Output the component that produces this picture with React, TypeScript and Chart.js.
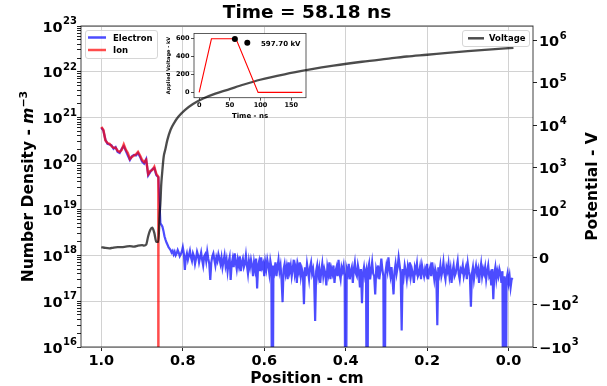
import React, { useEffect, useRef } from 'react';
import { Chart, Scale, registerables } from 'chart.js';

const FONT = "'DejaVu Sans', 'Liberation Sans', sans-serif";

// ---------------- data ----------------
const TITLE = 'Time = 58.18 ns';

// near-cathode region grid: x = 1.000 ... 0.860, step 0.005
const NEAR_X_FIRST = 1.0;
const NEAR_X_STEP = 0.005;
// far region grid: x = 0.855 ... -0.010, step 0.0025
const FAR_X_FIRST = 0.855;
const FAR_X_STEP = 0.0025;

// ion density on the near grid (m^-3)
const ION_DENSITY = [
  6.3e20, 5.4e20, 3.2e20, 2.8e20, 2.7e20, 2.4e20, 2.2e20, 2.2e20, 1.9e20, 1.8e20,
  2.0e20, 2.6e20, 2.0e20, 1.7e20, 1.26e20, 1.4e20, 1.5e20, 1.6e20, 1.8e20, 1.5e20,
  1.2e20, 1.07e20, 1.2e20, 5.9e19, 6.9e19, 7.2e19, 8.5e19, 5.9e19, 5.1e19,
];
const ION_CUTOFF_X = 0.86;
const ION_CUTOFF_VALUE = 1e12; // zero (falls below the axis)

// electron density on the near grid (m^-3)
const ELECTRON_NEAR = [
  6.1e20, 5.2e20, 3.3e20, 2.7e20, 2.6e20, 2.5e20, 2.1e20, 2.3e20, 1.8e20, 1.7e20,
  2.1e20, 2.4e20, 1.9e20, 1.5e20, 1.2e20, 1.45e20, 1.55e20, 1.5e20, 1.7e20, 1.4e20,
  1.1e20, 1.0e20, 1.25e20, 5.5e19, 6.5e19, 7.5e19, 8.0e19, 5.6e19, 5.0e19,
];
// electron density on the far grid (m^-3); 1e12 = zero counts (below the axis)
const ELECTRON_FAR = [
  5.0e18, 4.6e18, 4.2e18, 3.4e18, 2.6e18, 2.2e18, 1.9e18, 1.7e18, 1.5e18, 1.4e18, 1.3e18, 1.15e18, 1.25e18, 1.05e18, 1.2e18, 1.0e18, 1.1e18, 1.3e18, 1.15e18, 9.5e17,
  1.05e18, 1.2e18, 1.5e18, 1.1e18, 4.8e17, 9.0e17, 1.1e18, 8.0e17, 1.0e18, 1.25e18, 9.0e17, 7.5e17, 1.1e18, 9.5e17, 6.5e17, 8.5e17, 1.2e18, 1.0e18, 7.0e17, 9.0e17,
  1.15e18, 8.0e17, 6.0e17, 9.5e17, 1.05e18, 7.5e17, 1.2e18, 8.5e17, 6.5e17, 2.9e17, 7.0e17, 9.5e17, 1.1e18, 8.0e17, 6.0e17, 9.0e17, 7.5e17, 1.05e18, 8.5e17, 6.5e17,
  9.0e17, 5.5e17, 7.5e17, 1.0e18, 6.0e17, 8.0e17, 4.5e17, 7.0e17, 9.0e17, 2.9e17, 6.5e17, 8.5e17, 5.5e17, 1.1e18, 7.0e17, 5.0e17, 8.0e17, 6.0e17, 9.5e17, 4.5e17,
  7.0e17, 8.5e17, 5.5e17, 6.5e17, 1.0e18, 6.0e17, 4.0e17, 7.5e17, 5.5e17, 8.0e17, 6.0e17, 3.5e17, 7.0e17, 5.0e17, 8.5e17, 1.9e17, 6.0e17, 7.5e17, 4.5e17, 9.0e17,
  5.5e17, 6.5e17, 3.5e17, 7.0e17, 5.0e17, 8.0e17, 6.0e17, 4.0e17, 7.5e17, 5.5e17, 1e12, 6.0e17, 4.5e17, 7.0e17, 3.5e17, 5.5e17, 8.0e17, 4.5e17, 6.0e17, 3.0e17,
  9.5e16, 5.0e17, 6.5e17, 4.0e17, 5.5e17, 3.0e17, 7.0e17, 4.5e17, 6.0e17, 3.5e17, 5.0e17, 8.0e17, 4.0e17, 5.5e17, 2.5e17, 6.0e17, 4.5e17, 7.0e17, 3.5e17, 5.0e17,
  4.0e17, 8.6e16, 5.5e17, 3.5e17, 6.5e17, 4.5e17, 3.0e17, 5.5e17, 7.0e17, 4.0e17, 5.0e17, 3.0e17, 3.7e16, 4.5e17, 6.0e17, 3.5e17, 5.0e17, 2.5e17, 4.5e17, 6.5e17,
  3.5e17, 5.0e17, 4.0e17, 2.2e17, 5.5e17, 4.0e17, 7.0e17, 3.0e17, 5.0e17, 4.0e17, 6.0e17, 2.5e17, 4.5e17, 5.5e17, 3.5e17, 8.0e17, 4.0e17, 3.0e17, 5.5e17, 4.5e17,
  6.0e17, 3.5e17, 1e12, 5.0e17, 4.0e17, 6.5e17, 3.0e17, 4.5e17, 5.5e17, 2.5e17, 5.0e17, 7.0e17, 4.0e17, 3.5e17, 6.0e17, 4.5e17, 2.0e17, 5.0e17, 9.0e16, 4.0e17,
  5.5e17, 3.5e17, 4.5e17, 1e12, 5.0e17, 6.5e17, 3.0e17, 4.5e17, 7.0e17, 4.0e17, 3.5e17, 1.4e17, 5.0e17, 4.0e17, 6.0e17, 3.0e17, 4.5e17, 8.5e17, 5.0e17, 3.5e17,
  1e12, 4.0e17, 6.0e17, 4.5e17, 9.0e17, 5.0e17, 3.5e17, 5.5e17, 3.0e17, 1.4e17, 4.5e17, 6.5e17, 4.0e17, 5.5e17, 9.0e17, 6.0e17, 4.0e17, 2.3e16, 5.0e17, 3.5e17,
  6.0e17, 4.5e17, 3.0e17, 5.5e17, 4.0e17, 7.0e17, 3.5e17, 5.0e17, 4.0e17, 2.5e17, 5.5e17, 4.5e17, 6.5e17, 3.5e17, 4.0e17, 5.5e17, 3.0e17, 6.0e17, 4.5e17, 3.5e17,
  5.0e17, 4.0e17, 6.5e17, 3.0e17, 4.5e17, 5.5e17, 3.5e17, 7.0e17, 4.5e17, 3.0e17, 5.0e17, 4.0e17, 3.0e16, 5.5e17, 4.0e17, 6.0e17, 3.5e17, 4.5e17, 7.0e17, 4.0e17,
  3.0e17, 5.5e17, 4.5e17, 6.5e17, 3.5e17, 5.0e17, 2.5e17, 4.5e17, 6.0e17, 3.5e17, 4.0e17, 5.5e17, 7.5e17, 4.0e17, 3.0e17, 5.0e17, 4.5e17, 6.0e17, 3.5e17, 4.5e17,
  5.5e17, 3.0e17, 6.5e17, 4.5e17, 3.5e17, 7.6e16, 4.0e17, 5.5e17, 3.0e17, 4.5e17, 6.0e17, 4.0e17, 5.0e17, 2.5e17, 4.5e17, 6.5e17, 3.5e17, 5.0e17, 4.0e17, 5.5e17,
  3.0e17, 4.5e17, 6.0e17, 3.5e17, 4.0e17, 2.2e17, 5.0e17, 1.1e17, 4.0e17, 5.5e17, 3.0e17, 4.5e17, 3.5e17, 5.0e17, 4.0e17, 2.5e17, 4.5e17, 1e12, 3.5e17, 1e12,
  3.0e17, 4.0e17, 2.5e17, 3.5e17, 2.0e17, 3.0e17, 3.2e17,
];

// potential (V)
const VOLTAGE_X = [
  1.0, 0.99, 0.98, 0.97, 0.96, 0.95, 0.94, 0.93, 0.92, 0.91,
  0.90, 0.895, 0.89, 0.885, 0.88, 0.875, 0.87, 0.865, 0.86, 0.857,
  0.855, 0.853, 0.851, 0.847, 0.843, 0.838, 0.83, 0.82, 0.811, 0.795,
  0.775, 0.75, 0.72, 0.69, 0.65, 0.61, 0.55, 0.49, 0.43, 0.36,
  0.30, 0.25, 0.20, 0.15, 0.10, 0.05, -0.012,
];
const VOLTAGE_V = [
  22, 20, 19, 21, 22, 22, 23, 24, 23, 25,
  26, 25, 27, 45, 58, 63, 52, 33, 33, 90,
  150, 400, 700, 1800, 2700, 4500, 7900, 12000, 16000, 23000,
  32000, 43000, 56000, 69000, 92000, 119000, 160000, 205000, 255000, 316000,
  370000, 420000, 462000, 510000, 560000, 610000, 676000,
];

// inset: applied voltage waveform
const APPLIED_T = [0, 20, 60, 96, 168];
const APPLIED_KV = [0, 600, 600, 0, 0];
const NOW_T = 58.18;
const NOW_KV = 597.7;
const NOW_LABEL = '597.70 kV';

const X_TICKS = [1.0, 0.8, 0.6, 0.4, 0.2, 0.0];
const DENSITY_DECADES = [16, 17, 18, 19, 20, 21, 22, 23];
const POTENTIAL_TICKS = [-1000, -100, 0, 100, 1000, 1e4, 1e5, 1e6];
const INSET_X_TICKS = [0, 50, 100, 150];
const INSET_Y_TICKS = [0, 200, 400, 600];

// ---------------- helpers ----------------
const isDecade = (v: number) => v > 0 && Math.abs(Math.log10(v) - Math.round(Math.log10(v))) < 1e-6;

const LINTHRESH = 100;
const LINSCALE_ADJ = 1 / (1 - 1 / 10);
function symT(v: number) {
  const a = Math.abs(v);
  if (a <= LINTHRESH) return (v / LINTHRESH) * LINSCALE_ADJ;
  return Math.sign(v) * (LINSCALE_ADJ + Math.log10(a / LINTHRESH));
}
function symInv(t: number) {
  const a = Math.abs(t);
  if (a <= LINSCALE_ADJ) return (t * LINTHRESH) / LINSCALE_ADJ;
  return Math.sign(t) * LINTHRESH * Math.pow(10, a - LINSCALE_ADJ);
}

class SymlogScale extends (Scale as any) {
  static id = 'symlog';
  static defaults = {};
  _t0 = 0;
  _tr = 1;
  determineDataLimits() {
    const { min, max } = this.getMinMax(true);
    const o: any = this.options;
    this.min = typeof o.min === 'number' ? o.min : min;
    this.max = typeof o.max === 'number' ? o.max : max;
  }
  buildTicks() {
    return POTENTIAL_TICKS.map((v) => ({ value: v }));
  }
  configure() {
    super.configure();
    this._t0 = symT(this.min);
    this._tr = symT(this.max) - this._t0;
  }
  getLabelForValue(v: number) {
    return String(v);
  }
  getPixelForValue(v: number) {
    return this.getPixelForDecimal((symT(v) - this._t0) / this._tr);
  }
  getValueForPixel(p: number) {
    return symInv(this.getDecimalForPixel(p) * this._tr + this._t0);
  }
}

Chart.register(...registerables, SymlogScale as any);

const GRID = '#d2d2d2';
const TICK_SIZE = 14.5;
const TICK_FONT = { family: FONT, size: TICK_SIZE, weight: 'bold' as const };
const HIDDEN = 'rgba(0,0,0,0)';

function drawPow(ctx: CanvasRenderingContext2D, x: number, y: number, prefix: string, exp: string, align: 'left' | 'right') {
  const main = `bold ${TICK_SIZE}px ${FONT}`;
  const small = `bold 10px ${FONT}`;
  ctx.font = main;
  const wMain = ctx.measureText(prefix + '10').width;
  ctx.font = small;
  const wExp = exp ? ctx.measureText(exp).width + 0.5 : 0;
  const start = align === 'right' ? x - wMain - wExp : x;
  ctx.fillStyle = '#000';
  ctx.textAlign = 'left';
  ctx.textBaseline = 'alphabetic';
  ctx.font = main;
  ctx.fillText(prefix + '10', start, y + 5.5);
  if (exp) {
    ctx.font = small;
    ctx.fillText(exp, start + wMain + 0.5, y - 1.8);
  }
}

function drawLegend(ctx: CanvasRenderingContext2D, box: { x: number; y: number; w: number; h: number }, entries: { y: number; color: string; label: string }[], lx1: number, lx2: number, tx: number) {
  ctx.save();
  ctx.beginPath();
  (ctx as any).roundRect(box.x + 0.5, box.y + 0.5, box.w, box.h, 2.5);
  ctx.fillStyle = 'rgba(255,255,255,0.8)';
  ctx.fill();
  ctx.strokeStyle = '#d6d6d6';
  ctx.lineWidth = 1;
  ctx.stroke();
  ctx.font = `bold 8.5px ${FONT}`;
  ctx.textBaseline = 'alphabetic';
  ctx.textAlign = 'left';
  for (const e of entries) {
    ctx.beginPath();
    ctx.moveTo(lx1, e.y);
    ctx.lineTo(lx2, e.y);
    ctx.strokeStyle = e.color;
    ctx.lineWidth = 2.5;
    ctx.stroke();
    ctx.fillStyle = '#000';
    ctx.fillText(e.label, tx, e.y + 3.1);
  }
  ctx.restore();
}

function drawRotated(ctx: CanvasRenderingContext2D, cx: number, cy: number, parts: { text: string; font: string; dy?: number }[], baselineOffset: number) {
  ctx.save();
  ctx.translate(cx, cy);
  ctx.rotate(-Math.PI / 2);
  let total = 0;
  for (const p of parts) {
    ctx.font = p.font;
    total += ctx.measureText(p.text).width;
  }
  let x = -total / 2;
  ctx.fillStyle = '#000';
  ctx.textBaseline = 'alphabetic';
  ctx.textAlign = 'left';
  for (const p of parts) {
    ctx.font = p.font;
    ctx.fillText(p.text, x, baselineOffset + (p.dy || 0));
    x += ctx.measureText(p.text).width;
  }
  ctx.restore();
}

export default function App() {
  const mainRef = useRef<HTMLCanvasElement>(null);
  const insetRef = useRef<HTMLCanvasElement>(null);

  useEffect(() => {
    const INSET_LEFT = 150;
    const INSET_TOP = 28;

    const insetDecor = {
      id: 'insetDecor',
      afterDatasetsDraw(chart: any) {
        const { ctx, chartArea: a } = chart;
        ctx.save();
        ctx.strokeStyle = 'rgba(0,0,0,0.8)';
        ctx.lineWidth = 0.8;
        ctx.strokeRect(a.left, a.top, a.right - a.left, a.bottom - a.top);
        ctx.fillStyle = '#000';
        ctx.font = `bold 7px ${FONT}`;
        ctx.textAlign = 'center';
        ctx.textBaseline = 'alphabetic';
        ctx.fillText('Time - ns', (a.left + a.right) / 2, 90);
        ctx.textAlign = 'left';
        ctx.fillText(NOW_LABEL, 111, 17.5);
        ctx.beginPath();
        ctx.arc(97.3, 14.7, 3, 0, Math.PI * 2);
        ctx.fill();
        ctx.restore();
        drawRotated(ctx, 18.5, 37.5, [{ text: 'Applied Voltage - kV', font: `bold 5px ${FONT}` }], 1.8);
      },
    };

    const inset = new Chart(insetRef.current as HTMLCanvasElement, {
      type: 'line',
      data: {
        datasets: [
          {
            data: [{ x: NOW_T, y: NOW_KV }],
            showLine: false,
            pointRadius: 3,
            pointBackgroundColor: '#000',
            pointBorderWidth: 0,
            order: 0,
          },
          {
            data: APPLIED_T.map((t, i) => ({ x: t, y: APPLIED_KV[i] })),
            borderColor: '#ff0000',
            borderWidth: 1.1,
            pointRadius: 0,
            order: 1,
          },
        ],
      } as any,
      options: {
        responsive: false,
        animation: false,
        events: [],
        layout: { padding: { top: 3.7, right: 3.3, left: 0, bottom: 0 } },
        plugins: { legend: { display: false }, tooltip: { enabled: false }, title: { display: false } },
        scales: {
          x: {
            type: 'linear',
            min: -8.4,
            max: 174,
            afterBuildTicks: (s: any) => {
              s.ticks = INSET_X_TICKS.map((v) => ({ value: v }));
            },
            afterFit: (s: any) => {
              s.height = 26.3;
            },
            ticks: { autoSkip: false, maxRotation: 0, padding: 0.5, color: '#000', font: { family: FONT, size: 6.5, weight: 'bold' }, callback: (v: any) => String(v) },
            grid: { drawOnChartArea: false, tickColor: '#222', tickLength: 3, tickWidth: 0.8 },
            border: { display: false },
          },
          y: {
            type: 'linear',
            min: -60,
            max: 660,
            afterBuildTicks: (s: any) => {
              s.ticks = INSET_Y_TICKS.map((v) => ({ value: v }));
            },
            afterFit: (s: any) => {
              s.width = 44;
            },
            ticks: { autoSkip: false, padding: 1.5, color: '#000', font: { family: FONT, size: 6.5, weight: 'bold' }, callback: (v: any) => String(v) },
            grid: { drawOnChartArea: false, tickColor: '#222', tickLength: 3, tickWidth: 0.8 },
            border: { display: false },
          },
        },
      } as any,
      plugins: [insetDecor],
    });

    const ia = inset.chartArea;
    const insetBox = { x: INSET_LEFT + ia.left, y: INSET_TOP + ia.top, w: ia.right - ia.left, h: ia.bottom - ia.top };

    const mainDecor = {
      id: 'mainDecor',
      beforeDatasetsDraw(chart: any) {
        const { ctx } = chart;
        ctx.save();
        ctx.fillStyle = '#fff';
        ctx.fillRect(insetBox.x, insetBox.y, insetBox.w, insetBox.h);
        ctx.restore();
      },
      afterDatasetsDraw(chart: any) {
        const { ctx, chartArea: a } = chart;
        ctx.save();
        ctx.strokeStyle = 'rgba(0,0,0,0.75)';
        ctx.lineWidth = 1;
        ctx.strokeRect(a.left, a.top, a.right - a.left, a.bottom - a.top);
        ctx.restore();
      },
      afterDraw(chart: any) {
        const { ctx, chartArea: a } = chart;
        const bold = `bold 15.5px ${FONT}`;
        ctx.save();
        // density tick labels (left)
        const ys = chart.scales.y;
        for (const e of DENSITY_DECADES) {
          drawPow(ctx, a.left - 4, ys.getPixelForValue(Math.pow(10, e)), '', String(e), 'right');
        }
        // potential tick labels (right)
        const y2 = chart.scales.y2;
        for (const v of POTENTIAL_TICKS) {
          const py = y2.getPixelForValue(v);
          if (v === 0) {
            ctx.font = `bold ${TICK_SIZE}px ${FONT}`;
            ctx.fillStyle = '#000';
            ctx.textAlign = 'left';
            ctx.textBaseline = 'alphabetic';
            ctx.fillText('0', a.right + 6, py + 5.5);
          } else {
            drawPow(ctx, a.right + 6, py, v < 0 ? '−' : '', String(Math.round(Math.log10(Math.abs(v)))), 'left');
          }
        }
        // x title
        ctx.fillStyle = '#000';
        ctx.font = bold;
        ctx.textAlign = 'center';
        ctx.textBaseline = 'alphabetic';
        ctx.fillText('Position - cm', (a.left + a.right) / 2, 382.5);
        ctx.restore();
        // left title
        drawRotated(
          ctx,
          27.5,
          (a.top + a.bottom) / 2,
          [
            { text: 'Number Density - ', font: bold },
            { text: 'm', font: `italic bold 15.5px ${FONT}` },
            { text: '−3', font: `bold 11px ${FONT}`, dy: -6.5 },
          ],
          5.6
        );
        // right title
        drawRotated(ctx, 591.5, (a.top + a.bottom) / 2, [{ text: 'Potential - V', font: bold }], 5.6);
        // legends
        drawLegend(
          ctx,
          { x: 85, y: 30, w: 72, h: 28 },
          [
            { y: 37.5, color: 'rgba(0,0,255,0.7)', label: 'Electron' },
            { y: 50, color: 'rgba(255,0,0,0.7)', label: 'Ion' },
          ],
          88,
          106,
          113
        );
        drawLegend(ctx, { x: 462, y: 30, w: 67, h: 16 }, [{ y: 38.3, color: 'rgba(0,0,0,0.7)', label: 'Voltage' }], 468, 484, 489);
      },
    };

    const nearX = ELECTRON_NEAR.map((_, i) => +(NEAR_X_FIRST - i * NEAR_X_STEP).toFixed(4));
    const farX = ELECTRON_FAR.map((_, i) => +(FAR_X_FIRST - i * FAR_X_STEP).toFixed(4));
    const densityTicks: number[] = [];
    DENSITY_DECADES.forEach((e, k) => {
      densityTicks.push(Math.pow(10, e));
      if (k < DENSITY_DECADES.length - 1) for (let m = 2; m <= 9; m++) densityTicks.push(m * Math.pow(10, e));
    });

    const main = new Chart(mainRef.current as HTMLCanvasElement, {
      type: 'line',
      data: {
        datasets: [
          {
            label: 'Voltage',
            data: VOLTAGE_X.map((x, i) => ({ x, y: VOLTAGE_V[i] })),
            borderColor: 'rgba(0,0,0,0.7)',
            borderWidth: 2.3,
            pointRadius: 0,
            cubicInterpolationMode: 'monotone',
            yAxisID: 'y2',
            order: 0,
          },
          {
            label: 'Ion',
            data: [...ION_DENSITY.map((v, i) => ({ x: nearX[i], y: v })), { x: ION_CUTOFF_X, y: ION_CUTOFF_VALUE }],
            borderColor: 'rgba(255,0,0,0.7)',
            borderWidth: 2.5,
            pointRadius: 0,
            yAxisID: 'y',
            order: 1,
          },
          {
            label: 'Electron',
            data: [
              ...ELECTRON_NEAR.map((v, i) => ({ x: nearX[i], y: v })),
              ...ELECTRON_FAR.map((v, i) => ({ x: farX[i], y: v })),
            ],
            borderColor: 'rgba(0,0,255,0.7)',
            borderWidth: 2.2,
            pointRadius: 0,
            yAxisID: 'y',
            order: 2,
          },
        ],
      } as any,
      options: {
        responsive: false,
        animation: false,
        events: [],
        layout: { padding: 0 },
        plugins: {
          legend: { display: false },
          tooltip: { enabled: false },
          title: {
            display: true,
            text: TITLE,
            fullSize: false,
            color: '#000',
            font: { family: FONT, size: 18.5, weight: 'bold' },
            padding: { top: 2, bottom: 1.8 },
          },
        },
        scales: {
          x: {
            type: 'linear',
            reverse: true,
            min: -0.06,
            max: 1.05,
            afterBuildTicks: (s: any) => {
              s.ticks = X_TICKS.map((v) => ({ value: v }));
            },
            afterFit: (s: any) => {
              s.height = 39;
            },
            ticks: { autoSkip: false, maxRotation: 0, padding: 1.5, color: '#000', font: TICK_FONT, callback: (v: any) => Number(v).toFixed(1) },
            grid: { color: GRID, lineWidth: 1, tickColor: '#222', tickLength: 4, tickWidth: 1 },
            border: { display: false },
          },
          y: {
            type: 'logarithmic',
            position: 'left',
            min: 1e16,
            max: 1e23,
            afterBuildTicks: (s: any) => {
              s.ticks = densityTicks.map((v) => ({ value: v }));
            },
            afterFit: (s: any) => {
              s.width = 81;
            },
            ticks: { autoSkip: false, padding: 1, color: HIDDEN, font: TICK_FONT, callback: () => '' },
            grid: {
              color: (c: any) => (c.tick && isDecade(c.tick.value) ? GRID : HIDDEN),
              lineWidth: 1,
              tickColor: '#222',
              tickLength: 4,
              tickWidth: 1,
            },
            border: { display: false },
          },
          y2: {
            type: 'symlog',
            position: 'right',
            min: -1000,
            max: 2.2e6,
            afterFit: (s: any) => {
              s.width = 74;
            },
            ticks: { autoSkip: false, padding: 2, color: HIDDEN, font: TICK_FONT, callback: () => '' },
            grid: { drawOnChartArea: false, tickColor: '#222', tickLength: 4, tickWidth: 1 },
            border: { display: false },
          },
        },
      } as any,
      plugins: [mainDecor],
    });

    return () => {
      main.destroy();
      inset.destroy();
    };
  }, []);

  return (
    <div style={{ position: 'absolute', left: 0, top: 0, width: 607, height: 386, background: '#fff' }}>
      <canvas ref={mainRef} width={607} height={386} style={{ position: 'absolute', left: 0, top: 0, width: 607, height: 386 }} />
      <canvas ref={insetRef} width={160} height={96} style={{ position: 'absolute', left: 150, top: 28, width: 160, height: 96 }} />
    </div>
  );
}
